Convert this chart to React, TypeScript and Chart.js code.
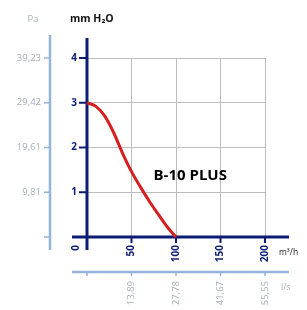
import React, { useEffect, useRef } from "react";
import { Chart, registerables } from "chart.js";
Chart.register(...registerables);

const flowM3h = [0, 10, 20, 30, 40, 50, 60, 70, 80, 90, 100];
const pressureMmH2O = [3.0, 2.92, 2.7, 2.33, 1.87, 1.46, 1.12, 0.8, 0.51, 0.23, 0];
const yTicks = [1, 2, 3, 4];
const paLabels = ["9,81", "19,61", "29,42", "39,23"];
const xTicks = [50, 100, 150, 200];
const lsLabels = ["13,89", "27,78", "41,67", "55,55"];
const seriesName = "B-10 PLUS";

const NAVY = "#0c1c74";
const LIGHT = "#93b3da";
const GREYTXT = "#a8adb6";
const FONT = "'Open Sans', 'DejaVu Sans', sans-serif";

const decor = {
  id: "decor",
  beforeDatasetsDraw(chart: any) {
    const { ctx, scales } = chart;
    const x = scales.x, y = scales.y;
    const x0 = x.getPixelForValue(0);
    const y0 = y.getPixelForValue(0);
    const yTop = y.getPixelForValue(4);
    const xEnd = x.getPixelForValue(200);
    ctx.save();
    // light blue Pa axis
    const paX = x0 - 37;
    ctx.strokeStyle = LIGHT;
    ctx.lineWidth = 2.5;
    ctx.beginPath();
    ctx.moveTo(paX, yTop - 23);
    ctx.lineTo(paX, y0 + 13);
    ctx.stroke();
    ctx.lineWidth = 1.5;
    [0, ...yTicks].forEach((v) => {
      const py = y.getPixelForValue(v);
      ctx.beginPath();
      ctx.moveTo(paX - 6, py);
      ctx.lineTo(paX, py);
      ctx.stroke();
    });
    // light blue l/s axis
    const lsY = y0 + 35;
    ctx.lineWidth = 2.5;
    ctx.beginPath();
    ctx.moveTo(x0 - 15, lsY);
    ctx.lineTo(xEnd + 24, lsY);
    ctx.stroke();
    ctx.lineWidth = 1.5;
    [0, ...xTicks].forEach((v) => {
      const px = x.getPixelForValue(v);
      ctx.beginPath();
      ctx.moveTo(px, lsY);
      ctx.lineTo(px, lsY + 4);
      ctx.stroke();
    });
    // navy main axes
    ctx.strokeStyle = NAVY;
    ctx.lineWidth = 3;
    ctx.beginPath();
    ctx.moveTo(x0, yTop - 20);
    ctx.lineTo(x0, y0 + 13);
    ctx.stroke();
    ctx.beginPath();
    ctx.moveTo(x0 - 15, y0);
    ctx.lineTo(xEnd + 24, y0);
    ctx.stroke();
    ctx.lineWidth = 2;
    yTicks.forEach((v) => {
      const py = y.getPixelForValue(v);
      ctx.beginPath();
      ctx.moveTo(x0 - 8, py);
      ctx.lineTo(x0, py);
      ctx.stroke();
    });
    xTicks.forEach((v) => {
      const px = x.getPixelForValue(v);
      ctx.beginPath();
      ctx.moveTo(px, y0);
      ctx.lineTo(px, y0 + 6);
      ctx.stroke();
    });
    ctx.restore();
  },
  afterDraw(chart: any) {
    const { ctx, scales } = chart;
    const x = scales.x, y = scales.y;
    const x0 = x.getPixelForValue(0);
    const y0 = y.getPixelForValue(0);
    const yTop = y.getPixelForValue(4);
    const xEnd = x.getPixelForValue(200);
    const paX = x0 - 37;
    ctx.save();
    ctx.textBaseline = "middle";
    // y tick labels
    ctx.fillStyle = NAVY;
    ctx.font = `bold 10px ${FONT}`;
    ctx.textAlign = "right";
    yTicks.forEach((v) => ctx.fillText(String(v), x0 - 10, y.getPixelForValue(v)));
    // Pa labels
    ctx.fillStyle = GREYTXT;
    ctx.font = `9.5px ${FONT}`;
    paLabels.forEach((t, i) => ctx.fillText(t, paX - 9, y.getPixelForValue(yTicks[i])));
    ctx.textAlign = "center";
    ctx.fillText("Pa", paX - 17, yTop - 39);
    // mm H2O
    ctx.fillStyle = "#111";
    ctx.font = `bold 10.5px ${FONT}`;
    ctx.textAlign = "left";
    ctx.fillText("mm H\u2082O", x0 - 17, yTop - 39);
    // x tick labels rotated
    const rot = (t: string, px: number, py: number) => {
      ctx.save();
      ctx.translate(px, py);
      ctx.rotate(-Math.PI / 2);
      ctx.textAlign = "right";
      ctx.textBaseline = "middle";
      ctx.fillText(t, 0, 0);
      ctx.restore();
    };
    ctx.fillStyle = NAVY;
    ctx.font = `bold 10px ${FONT}`;
    rot("0", x0 - 11, y0 + 8);
    xTicks.forEach((v) => rot(String(v), x.getPixelForValue(v), y0 + 8));
    ctx.fillStyle = GREYTXT;
    ctx.font = `9.5px ${FONT}`;
    lsLabels.forEach((t, i) => rot(t, x.getPixelForValue(xTicks[i]), y0 + 44));
    // units
    ctx.textAlign = "left";
    ctx.fillStyle = "#222";
    ctx.font = `8.5px ${FONT}`;
    ctx.fillText("m\u00b3/h", xEnd + 14, y0 + 16);
    ctx.fillStyle = GREYTXT;
    ctx.fillText("l/s", xEnd + 16, y0 + 51);
    // series label
    ctx.fillStyle = "#000";
    ctx.font = `bold 15px ${FONT}`;
    ctx.textAlign = "center";
    ctx.fillText(seriesName, x.getPixelForValue(116), y.getPixelForValue(1.37));
    ctx.restore();
  },
};

export default function App() {
  const ref = useRef<HTMLCanvasElement>(null);
  useEffect(() => {
    document.body.style.margin = "0";
    const chart = new Chart(ref.current!, {
      type: "line",
      data: {
        datasets: [
          {
            label: seriesName,
            data: flowM3h.map((f, i) => ({ x: f, y: pressureMmH2O[i] })),
            borderColor: "#d41f1f",
            borderWidth: 3,
            pointRadius: 0,
            cubicInterpolationMode: "monotone",
            clip: false as any,
          },
        ],
      },
      options: {
        animation: false,
        responsive: false,
        layout: { padding: { left: 87, top: 58, right: 42, bottom: 73 } },
        plugins: { legend: { display: false }, tooltip: { enabled: false } },
        scales: {
          x: {
            type: "linear",
            min: 0,
            max: 200,
            afterFit: (s: any) => { s.height = 0; },
            ticks: { display: false, stepSize: 50 },
            border: { display: false },
            grid: { color: "#bdbdbd", lineWidth: 1, drawTicks: false },
          },
          y: {
            type: "linear",
            min: 0,
            max: 4,
            afterFit: (s: any) => { s.width = 0; },
            ticks: { display: false, stepSize: 1 },
            border: { display: false },
            grid: { color: "#bdbdbd", lineWidth: 1, drawTicks: false },
          },
        },
      },
      plugins: [decor],
    });
    return () => chart.destroy();
  }, []);
  return <canvas ref={ref} width={307} height={310} style={{ display: "block" }} />;
}
